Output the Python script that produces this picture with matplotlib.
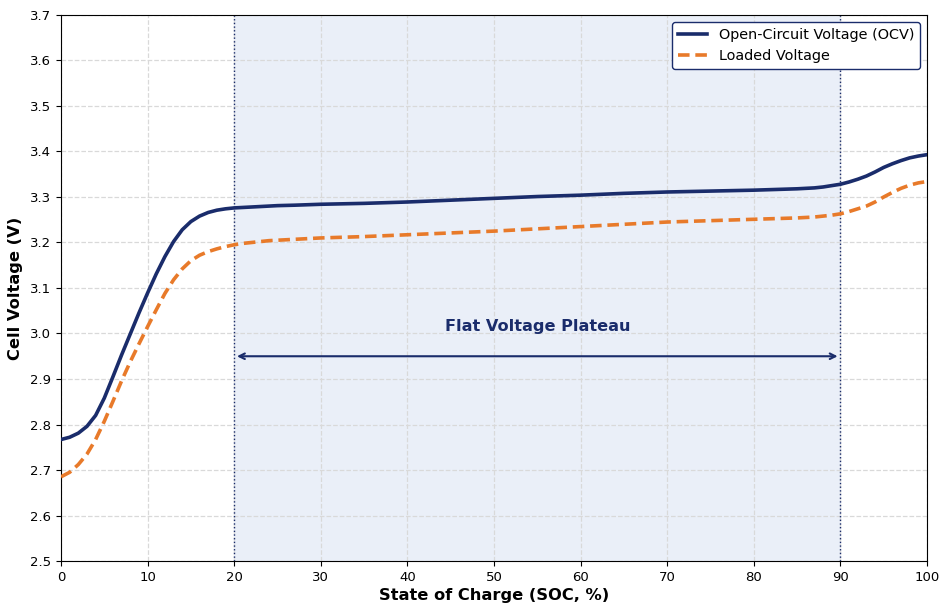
import matplotlib
matplotlib.use("Agg")
import matplotlib.pyplot as plt

soc = [0, 1, 2, 3, 4, 5, 6, 7, 8, 9, 10, 11, 12, 13, 14, 15, 16, 17, 18, 19, 20,
       21, 22, 23, 24, 25, 27, 30, 35, 40, 45, 50, 55, 60, 65, 70, 75, 80, 85,
       87, 88, 89, 90, 91, 92, 93, 94, 95, 96, 97, 98, 99, 100]
ocv = [2.767, 2.772, 2.781, 2.796, 2.820, 2.858, 2.905, 2.953, 2.999, 3.045, 3.089,
       3.131, 3.169, 3.202, 3.228, 3.246, 3.258, 3.266, 3.271, 3.274, 3.276,
       3.277, 3.278, 3.279, 3.280, 3.281, 3.282, 3.284, 3.286, 3.289, 3.293,
       3.297, 3.301, 3.304, 3.308, 3.311, 3.313, 3.315, 3.318,
       3.320, 3.322, 3.325, 3.328, 3.333, 3.339, 3.346, 3.355, 3.365, 3.373,
       3.380, 3.386, 3.390, 3.393]
loaded = [2.685, 2.695, 2.712, 2.735, 2.767, 2.807, 2.851, 2.896, 2.938, 2.977, 3.015,
          3.052, 3.088, 3.118, 3.142, 3.160, 3.172, 3.180, 3.186, 3.191, 3.195,
          3.198, 3.200, 3.202, 3.204, 3.205, 3.207, 3.210, 3.213, 3.217, 3.221,
          3.225, 3.230, 3.235, 3.240, 3.245, 3.248, 3.251, 3.254,
          3.256, 3.258, 3.260, 3.263, 3.268, 3.274, 3.280, 3.289, 3.300, 3.310,
          3.319, 3.326, 3.331, 3.334]

plateau = [20, 90]
arrow_y = 2.95
label_pos = (55, 3.016)

navy = "#1a2c6b"
orange = "#e87a2a"

fig = plt.figure(figsize=(9.5, 6.14), dpi=100)
ax = fig.add_axes([0.0642, 0.0863, 0.9116, 0.8893])

ax.axvspan(plateau[0], plateau[1], color="#eaeff8", zorder=0)
ax.axvline(plateau[0], color=navy, ls=":", lw=1.0, zorder=1)
ax.axvline(plateau[1], color=navy, ls=":", lw=1.0, zorder=1)

ax.plot(soc, ocv, color=navy, lw=2.6, label="Open-Circuit Voltage (OCV)", zorder=3,
        solid_joinstyle="round")
ax.plot(soc, loaded, color=orange, lw=2.6, ls=(0, (3.2, 1.6)), label="Loaded Voltage",
        zorder=3, dash_joinstyle="round")

ax.annotate("", xy=(plateau[0], arrow_y), xytext=(plateau[1], arrow_y),
            arrowprops=dict(arrowstyle="<->", color=navy, lw=1.5), zorder=4)
ax.text(label_pos[0], label_pos[1], "Flat Voltage Plateau", color=navy, fontsize=11.6,
        fontweight="bold", ha="center", va="center")

ax.set_xlim(0, 100)
ax.set_ylim(2.5, 3.7)
ax.set_xticks(range(0, 101, 10))
ax.set_yticks([2.5 + 0.1 * i for i in range(13)])
ax.set_yticklabels([f"{2.5 + 0.1 * i:.1f}" for i in range(13)])
ax.tick_params(labelsize=9.5)
ax.grid(True, ls="--", color="#d9d9d9", lw=0.9, zorder=0)
ax.set_axisbelow(True)
ax.set_xlabel("State of Charge (SOC, %)", fontsize=11.7, fontweight="bold", labelpad=3)
ax.set_ylabel("Cell Voltage (V)", fontsize=11.7, fontweight="bold", labelpad=5)

leg = ax.legend(loc="upper right", fontsize=10.4, frameon=True, fancybox=True)
leg.get_frame().set_edgecolor(navy)
leg.get_frame().set_alpha(1)

fig.savefig("out.png", dpi=100)
